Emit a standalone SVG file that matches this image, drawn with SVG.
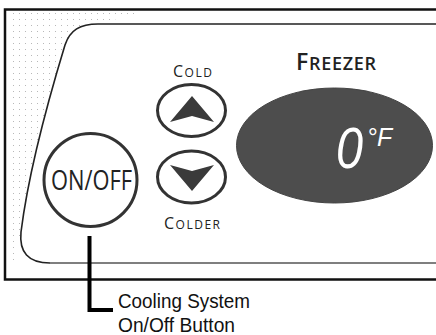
<svg xmlns="http://www.w3.org/2000/svg" width="436" height="335" viewBox="0 0 436 335">
<style>
.btn{fill:#fff;stroke:#333;stroke-width:3}
.arrow{fill:#3a3a3a}
.lbl{font-family:"Open Sans","Noto Sans",sans-serif;fill:#222}
.call{font-family:"Liberation Sans",Arial,sans-serif;font-size:21px;fill:#111}
.seg{font-family:"Liberation Sans",Arial,sans-serif;font-style:italic;fill:#fff}
</style>
<defs>
<pattern id="dots" width="6" height="6" patternUnits="userSpaceOnUse">
<rect x="1" y="1" width="1" height="1" fill="#9a9a9a"/>
</pattern>
</defs>
<rect width="436" height="335" fill="#fff"/>
<g id="frame">
<path d="M8 10 L150 10 L98 24 C80 24 70 30 65 45 Q30 160 21 232 L14 262 L8 262 Z" fill="url(#dots)" opacity="0.7"/>
<path d="M436 9.5 L5 9.5 L5 279.5 L436 279.5" fill="none" stroke="#111" stroke-width="2.5"/>
<path d="M436 24 L98 24 C80 24 70 30 65 45 Q30 160 21 232 C19 252 28 263 50 263" fill="none" stroke="#222" stroke-width="1.6"/>
<path d="M50 263 L436 263" fill="none" stroke="#555" stroke-width="1.6"/>
</g>
<g id="onoff">
<circle cx="90.5" cy="180" r="46.5" class="btn"/>
<text x="91.5" y="190" text-anchor="middle" class="lbl" font-size="27" textLength="81" lengthAdjust="spacingAndGlyphs">ON/OFF</text>
</g>
<g id="cold">
<text x="173" y="76.5" class="lbl" textLength="39" lengthAdjust="spacing"><tspan font-size="16">C</tspan><tspan font-size="12">OLD</tspan></text>
<ellipse cx="191.5" cy="110.5" rx="34" ry="26" class="btn"/>
<polygon points="192,96 214,122 192,116 170,122" class="arrow"/>
</g>
<g id="colder">
<ellipse cx="191.5" cy="177" rx="34" ry="26" class="btn"/>
<polygon points="192,191 214,165 192,171 170,165" class="arrow"/>
<text x="164" y="228.5" class="lbl" textLength="56" lengthAdjust="spacing"><tspan font-size="16">C</tspan><tspan font-size="12">OLDER</tspan></text>
</g>
<g id="freezer">
<text x="296" y="70" class="lbl" font-weight="600" textLength="80" lengthAdjust="spacing"><tspan font-size="23">F</tspan><tspan font-size="18">REEZER</tspan></text>
</g>
<g id="display">
<ellipse cx="334.5" cy="145.5" rx="98" ry="57.5" fill="#4d4d4d" stroke="#444" stroke-width="1"/>
<text x="336" y="168" class="seg" font-size="57" textLength="27" lengthAdjust="spacingAndGlyphs">0</text>
<text x="367" y="146" class="seg" font-size="26" textLength="25" lengthAdjust="spacingAndGlyphs">°F</text>
</g>
<g id="connectors">
<path d="M89.5 236 L89.5 310 L113 310" fill="none" stroke="#000" stroke-width="4"/>
</g>
<g id="callout">
<text x="118" y="308" class="call" textLength="132" lengthAdjust="spacingAndGlyphs">Cooling System</text>
<text x="118" y="332" class="call" textLength="117" lengthAdjust="spacingAndGlyphs">On/Off Button</text>
</g>
</svg>
